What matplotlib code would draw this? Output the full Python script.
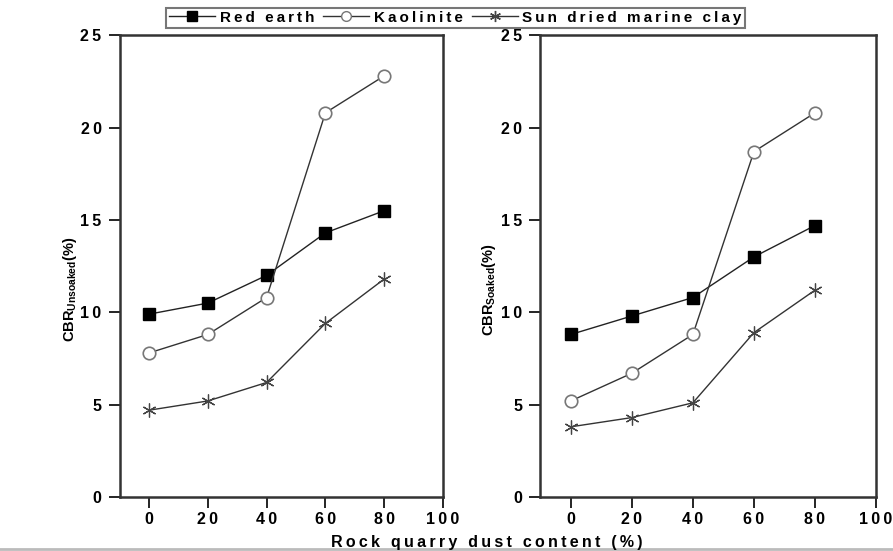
import matplotlib
matplotlib.use("Agg")
import matplotlib.pyplot as plt
from matplotlib.lines import Line2D

plt.rcParams['font.family'] = ['Liberation Sans', 'DejaVu Sans']
plt.rcParams['font.weight'] = 'bold'
plt.rcParams['mathtext.fontset'] = 'custom'
plt.rcParams['mathtext.rm'] = 'Liberation Sans:bold'

# ---------------------------------------
# Data
# ---------------------------------------
dust = [0, 20, 40, 60, 80]

red_unsoaked = [9.9, 10.5, 12.0, 14.3, 15.5]
kao_unsoaked = [7.8, 8.8, 10.8, 20.8, 22.8]
sun_unsoaked = [4.7, 5.2, 6.2, 9.4, 11.8]

red_soaked = [8.8, 9.8, 10.8, 13.0, 14.7]
kao_soaked = [5.2, 6.7, 8.8, 18.7, 20.8]
sun_soaked = [3.8, 4.3, 5.1, 8.9, 11.2]

xticks = [0, 20, 40, 60, 80, 100]
yticks = [0, 5, 10, 15, 20, 25]

series_names = ["Red earth", "Kaolinite", "Sun dried marine clay"]


def spaced(s):
    # mimic the wide letter spacing of the original
    return "\u2009".join(s)


fig = plt.figure(figsize=(8.93, 5.51), dpi=100)
axL = fig.add_axes([0.134, 0.098, 0.362, 0.838])
axR = fig.add_axes([0.605, 0.098, 0.376, 0.838])


def draw(ax, red, kao, sun, ylab):
    ax.plot(dust, red, color='#222222', lw=1.0, marker='s', ms=8,
            mfc='black', mec='black')
    ax.plot(dust, kao, color='#333333', lw=1.0, marker='o', ms=9,
            mfc='white', mec='#777777', mew=1.2)
    ax.plot(dust, sun, color='#333333', lw=1.0, marker=(6, 2, 0), ms=10,
            mec='#444444', mew=0.9)
    ax.set_xlim(-10, 100)
    ax.set_ylim(0, 25)
    ax.set_xticks(xticks)
    ax.set_yticks(yticks)
    ax.set_xticklabels([spaced(str(t)) for t in xticks], fontsize=11.5,
                       fontweight='bold')
    ax.set_yticklabels([spaced(str(t)) for t in yticks], fontsize=11.5,
                       fontweight='bold')
    ax.tick_params(direction='out', length=8, width=1.2, pad=5)
    ax.tick_params(axis='x', pad=3)
    for sp in ax.spines.values():
        sp.set_linewidth(1.8)
        sp.set_color('#333333')
    ax.set_ylabel(ylab, fontsize=10.5, fontweight='bold')
    ax.yaxis.set_label_coords(-0.125, 0.45)


draw(axL, red_unsoaked, kao_unsoaked, sun_unsoaked,
     r'CBR$_{\mathrm{Unsoaked}}$(%)')
draw(axR, red_soaked, kao_soaked, sun_soaked,
     r'CBR$_{\mathrm{Soaked}}$(%)')

# ---------------------------------------
# Legend and shared x label
# ---------------------------------------
handles = [
    Line2D([], [], color='#222222', lw=1.0, marker='s', ms=7,
           mfc='black', mec='black'),
    Line2D([], [], color='#333333', lw=1.0, marker='o', ms=7,
           mfc='white', mec='#777777'),
    Line2D([], [], color='#333333', lw=1.0, marker=(6, 2, 0), ms=8,
           mec='#444444'),
]
leg = fig.legend(handles, [spaced(n) for n in series_names], loc='upper center',
                 bbox_to_anchor=(0.51, 1.0), ncol=3, frameon=True,
                 fancybox=False, edgecolor='#555555', handlelength=3.0,
                 columnspacing=0.6, handletextpad=0.3, borderpad=0.2,
                 prop={'size': 11, 'weight': 'bold'})
leg.get_frame().set_linewidth(1.5)

fig.text(0.545, 0.008, spaced("Rock quarry dust content (%)"), ha='center',
         fontsize=11.5, fontweight='bold')

fig.add_artist(Line2D([0, 1], [0.003, 0.003], color='#bbbbbb', lw=2,
                      transform=fig.transFigure))

fig.savefig("out.png", dpi=100)
